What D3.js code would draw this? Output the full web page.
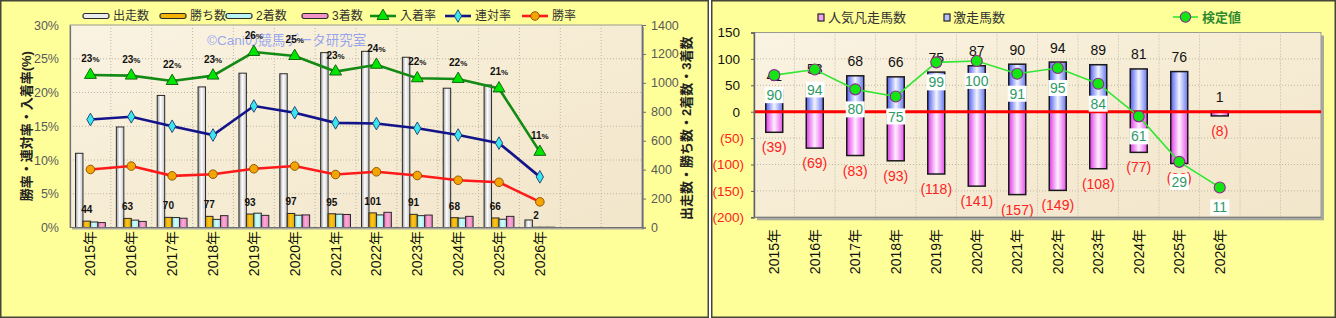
<!DOCTYPE html>
<html>
<head>
<meta charset="utf-8">
<script src="https://cdn.jsdelivr.net/npm/d3@7"></script>
<style>
  body { margin: 0; background: #ffffff; }
  svg { display: block; font-family: "Liberation Sans", Arial, "Noto Sans CJK JP", sans-serif; }
</style>
</head>
<body>
<svg id="chart" width="1336" height="318"></svg>
<script>
// データ（2015年〜2026年、後ろ2枠は空き）
var YEARS = ['2015年', '2016年', '2017年', '2018年', '2019年', '2020年', '2021年', '2022年', '2023年', '2024年', '2025年', '2026年']
var NCAT = 14
var STARTS = [513, 695, 913, 972, 1067, 1063, 1209, 1218, 1177, 963, 985, 52]
var WINS = [44, 63, 70, 77, 93, 97, 95, 101, 91, 68, 66, 2]
var SECONDS = [38, 51, 69, 56, 99, 85, 92, 87, 82, 65, 57, 2]
var THIRDS = [34, 42, 64, 82, 84, 87, 90, 105, 86, 77, 77, 2]
var PLACE_RATE = [22.6, 22.5, 21.7, 22.5, 26.0, 25.4, 23.1, 24.1, 22.1, 22.0, 20.6, 11.2]
var QUINELLA_RATE = [16.0, 16.4, 15.0, 13.7, 18.0, 17.0, 15.5, 15.4, 14.7, 13.7, 12.5, 7.5]
var WIN_RATE = [8.6, 9.1, 7.65, 7.9, 8.7, 9.1, 7.85, 8.25, 7.7, 7.0, 6.7, 3.8]
var RATE_TICKS = [0, 5, 10, 15, 20, 25, 30]
var COUNT_TICKS = [0, 200, 400, 600, 800, 1000, 1200, 1400]

var GEKISOU = [41, 53, 68, 66, 75, 87, 90, 94, 89, 81, 76, 1]
var BONSOU = [39, 69, 83, 93, 118, 141, 157, 149, 108, 77, 98, 8]
var KENTEI = [90, 94, 80, 75, 99, 100, 91, 95, 84, 61, 29, 11]
var R_TICKS = [-200, -150, -100, -50, 0, 50, 100, 150]

var svg = d3.select('#chart')
var defs = svg.append('defs')

function hgrad(id, stops) {
  var g = defs.append('linearGradient').attr('id', id)
    .attr('x1', '0%').attr('x2', '100%').attr('y1', '0%').attr('y2', '0%')
  stops.forEach(function (s) { g.append('stop').attr('offset', s[0]).attr('stop-color', s[1]) })
}
hgrad('gWhite', [['0%', '#9c9c9c'], ['45%', '#ffffff'], ['100%', '#c4c4c4']])
hgrad('gGold', [['0%', '#d49a00'], ['45%', '#ffc61e'], ['100%', '#e2a600']])
hgrad('gCyan', [['0%', '#90dcdc'], ['45%', '#d0ffff'], ['100%', '#a6e8e8']])
hgrad('gPink', [['0%', '#d86ea8'], ['45%', '#ffaadb'], ['100%', '#e486bc']])
hgrad('gBlue', [['0%', '#4e5ef0'], ['50%', '#f2f4ff'], ['100%', '#6676ee']])
hgrad('gMag', [['0%', '#e03ae6'], ['50%', '#fff0ff'], ['100%', '#e652ea']])
var pg = defs.append('linearGradient').attr('id', 'gPaper')
  .attr('x1', '0%').attr('y1', '0%').attr('x2', '100%').attr('y2', '100%')
pg.append('stop').attr('offset', '0%').attr('stop-color', '#faf3e2')
pg.append('stop').attr('offset', '50%').attr('stop-color', '#f6ecd4')
pg.append('stop').attr('offset', '100%').attr('stop-color', '#f2e6cb')

// パネル
function panel(x, w) {
  svg.append('rect').attr('x', x + 0.75).attr('y', 0.75).attr('width', w - 1.5).attr('height', 316.5)
    .attr('fill', '#ffff99').attr('stroke', '#45453a').attr('stroke-width', 1.5)
}
panel(0, 709)
panel(711, 625)

// ---------------- 左グラフ ----------------
var L = { left: 70, right: 642, top: 25, bottom: 227.5 }
var xL = d3.scaleBand().domain(d3.range(NCAT)).range([L.left, L.right])
var yRate = d3.scaleLinear().domain([0, 30]).range([L.bottom, L.top])
var yCount = d3.scaleLinear().domain([0, 1400]).range([L.bottom, L.top])
var gl = svg.append('g')

gl.append('rect').attr('x', L.left + 2).attr('y', L.top + 2).attr('width', L.right - L.left).attr('height', L.bottom - L.top)
  .attr('fill', '#a9a9a0')
gl.append('rect').attr('x', L.left).attr('y', L.top).attr('width', L.right - L.left).attr('height', L.bottom - L.top)
  .attr('fill', 'url(#gPaper)').attr('stroke', '#9a9a90')

// グリッド
gl.selectAll('.hg').data(RATE_TICKS.slice(1, -1)).enter().append('line')
  .attr('x1', L.left).attr('x2', L.right)
  .attr('y1', function (d) { return yRate(d) }).attr('y2', function (d) { return yRate(d) })
  .attr('stroke', '#bdb6a6').attr('stroke-dasharray', '1,2')
gl.selectAll('.vg').data(d3.range(1, NCAT)).enter().append('line')
  .attr('x1', function (d) { return L.left + d * xL.step() }).attr('x2', function (d) { return L.left + d * xL.step() })
  .attr('y1', L.top).attr('y2', L.bottom)
  .attr('stroke', '#bdb6a6').attr('stroke-dasharray', '1,2')

// 透かし
gl.append('text').attr('x', 207).attr('y', 45).attr('font-size', '13.5px')
  .attr('fill', '#6f86f5').attr('fill-opacity', 0.7)
  .text('©Caniの競馬データ研究室')

// 棒グラフ
var BAR_SERIES = [
  { name: '出走数', values: STARTS, fill: 'url(#gWhite)', key: '#ececec' },
  { name: '勝ち数', values: WINS, fill: 'url(#gGold)', key: '#f2b400' },
  { name: '2着数', values: SECONDS, fill: 'url(#gCyan)', key: '#b8f4f4' },
  { name: '3着数', values: THIRDS, fill: 'url(#gPink)', key: '#f294c6' }
]
var sub = d3.scaleBand().domain(d3.range(BAR_SERIES.length)).range([5.5, xL.bandwidth() - 5.5])
BAR_SERIES.forEach(function (s, k) {
  gl.selectAll('.b' + k).data(s.values).enter().append('rect')
    .attr('x', function (d, i) { return xL(i) + sub(k) })
    .attr('y', function (d) { return yCount(d) })
    .attr('width', sub.bandwidth())
    .attr('height', function (d) { return L.bottom - yCount(d) })
    .attr('fill', s.fill).attr('stroke', '#2a2a2a').attr('stroke-width', 1)
})
// 勝ち数ラベル
gl.selectAll('.wl').data(WINS).enter().append('text')
  .attr('x', function (d, i) { return xL(i) + sub(1) + sub.bandwidth() / 2 })
  .attr('y', function (d) { return yCount(d) - 8 })
  .attr('text-anchor', 'middle').attr('font-size', '10px').attr('font-weight', 'bold').attr('fill', '#111')
  .text(function (d) { return d })

// 折れ線
var LINE_SERIES = [
  { name: '入着率', values: PLACE_RATE, color: '#138a13', mark: 'tri', mfill: '#00e600', mstroke: '#0a5a0a' },
  { name: '連対率', values: QUINELLA_RATE, color: '#14148a', mark: 'dia', mfill: '#3ce6f0', mstroke: '#1a3a70' },
  { name: '勝率', values: WIN_RATE, color: '#ff1a1a', mark: 'cir', mfill: '#f5a500', mstroke: '#8a4a00' }
]
function cx(i) { return xL(i) + xL.bandwidth() / 2 }
function marker(sel, type) {
  if (type == 'cir') return sel.append('circle').attr('r', 4.3)
  var sym = type == 'tri' ? d3.symbol(d3.symbolTriangle, 62) : d3.symbol(d3.symbolDiamond, 46)
  return sel.append('path').attr('d', sym)
}
LINE_SERIES.forEach(function (s) {
  var line = d3.line().x(function (d, i) { return cx(i) }).y(function (d) { return yRate(d) })
  gl.append('path').attr('d', line(s.values)).attr('fill', 'none')
    .attr('stroke', s.color).attr('stroke-width', 2.6)
  var mg = gl.selectAll(null).data(s.values).enter().append('g')
    .attr('transform', function (d, i) { return 'translate(' + cx(i) + ',' + yRate(d) + ')' })
  marker(mg, s.mark).attr('fill', s.mfill).attr('stroke', s.mstroke).attr('stroke-width', 0.9)
})
// 入着率ラベル
var pl = gl.selectAll('.pl').data(PLACE_RATE).enter().append('text')
  .attr('x', function (d, i) { return cx(i) })
  .attr('y', function (d) { return yRate(d) - 13 })
  .attr('text-anchor', 'middle').attr('font-size', '10px').attr('font-weight', 'bold').attr('fill', '#111')
pl.append('tspan').text(function (d) { return Math.round(d) })
pl.append('tspan').attr('font-size', '8px').text('%')

// 軸
var axL = gl.append('g').attr('transform', 'translate(' + L.left + ',0)')
  .call(d3.axisLeft(yRate).tickValues(RATE_TICKS).tickSize(0).tickPadding(11).tickFormat(function (d) { return d + '%' }))
var axR = gl.append('g').attr('transform', 'translate(' + L.right + ',0)')
  .call(d3.axisRight(yCount).tickValues(COUNT_TICKS).tickSize(4).tickPadding(5).tickFormat(d3.format('d')))
;[axL, axR].forEach(function (a) {
  a.select('.domain').attr('stroke', '#707070').attr('stroke-width', 1.2)
  a.selectAll('.tick line').attr('stroke', '#707070')
  a.selectAll('text').attr('font-size', '12.5px').attr('fill', '#5a5a5a')
})
gl.append('line').attr('x1', L.left).attr('x2', L.right).attr('y1', L.bottom).attr('y2', L.bottom)
  .attr('stroke', '#707070').attr('stroke-width', 1.2)

gl.selectAll('.xl').data(YEARS).enter().append('text')
  .attr('transform', function (d, i) { return 'translate(' + cx(i) + ',231) rotate(-90)' })
  .attr('dy', '0.36em').attr('text-anchor', 'end').attr('font-size', '14px').attr('fill', '#111')
  .text(function (d) { return d })

gl.append('text').attr('transform', 'translate(26,' + ((L.top + L.bottom) / 2) + ') rotate(-90)')
  .attr('dy', '0.36em').attr('text-anchor', 'middle').attr('font-size', '13px').attr('font-weight', 'bold').attr('fill', '#222')
  .text('勝率・連対率・入着率(%)')
gl.append('text').attr('transform', 'translate(686,' + ((L.top + L.bottom) / 2 + 2) + ') rotate(-90)')
  .attr('dy', '0.36em').attr('text-anchor', 'middle').attr('font-size', '13px').attr('font-weight', 'bold').attr('fill', '#222')
  .text('出走数・勝ち数・2着数・3着数')

// 凡例
var LEG_X = [83, 160, 226, 302, 370, 445, 522]
var legItems = BAR_SERIES.map(function (s) { return { name: s.name, bar: s } })
  .concat(LINE_SERIES.map(function (s) { return { name: s.name, line: s } }))
var lg = gl.selectAll('.lg').data(legItems).enter().append('g')
  .attr('transform', function (d, i) { return 'translate(' + LEG_X[i] + ',16)' })
lg.each(function (d) {
  var g = d3.select(this)
  if (d.bar) {
    g.append('rect').attr('x', 0).attr('y', -2.5).attr('width', 26).attr('height', 5).attr('rx', 2)
      .attr('fill', d.bar.key).attr('stroke', '#2a2a2a').attr('stroke-width', 1.2)
  } else {
    g.append('line').attr('x1', 0).attr('x2', 26).attr('stroke', d.line.color).attr('stroke-width', 2.6)
    var m = g.append('g').attr('transform', 'translate(13,0)')
    marker(m, d.line.mark).attr('fill', d.line.mfill).attr('stroke', d.line.mstroke).attr('stroke-width', 0.9)
  }
  g.append('text').attr('x', 30).attr('dy', '0.36em').attr('font-size', '12px').attr('fill', '#333').text(d.name)
})

// ---------------- 右グラフ ----------------
var R = { left: 754, right: 1321, top: 32.5, bottom: 217.3 }
var xR = d3.scaleBand().domain(d3.range(NCAT)).range([R.left, R.right])
var yR = d3.scaleLinear().domain([-200, 150]).range([R.bottom, R.top])
var yK = d3.scaleLinear().domain([-10, 120]).range([R.bottom, R.top])
var gr = svg.append('g')
function rx(i) { return xR(i) + xR.bandwidth() / 2 }

gr.append('rect').attr('x', R.left + 3).attr('y', R.top + 3).attr('width', R.right - R.left).attr('height', R.bottom - R.top)
  .attr('fill', '#a9a9a0')
gr.append('rect').attr('x', R.left).attr('y', R.top).attr('width', R.right - R.left).attr('height', R.bottom - R.top)
  .attr('fill', 'url(#gPaper)').attr('stroke', '#9a9a90')
gr.selectAll('.hg').data(R_TICKS.slice(1, -1)).enter().append('line')
  .attr('x1', R.left).attr('x2', R.right)
  .attr('y1', function (d) { return yR(d) }).attr('y2', function (d) { return yR(d) })
  .attr('stroke', '#bdb6a6').attr('stroke-dasharray', '1,2')
gr.selectAll('.vg').data(d3.range(1, NCAT)).enter().append('line')
  .attr('x1', function (d) { return R.left + d * xR.step() }).attr('x2', function (d) { return R.left + d * xR.step() })
  .attr('y1', R.top).attr('y2', R.bottom)
  .attr('stroke', '#bdb6a6').attr('stroke-dasharray', '1,2')

var BW = 17
gr.selectAll('.pb').data(BONSOU).enter().append('rect')
  .attr('x', function (d, i) { return rx(i) - BW / 2 }).attr('y', yR(0))
  .attr('width', BW).attr('height', function (d) { return yR(-d) - yR(0) })
  .attr('fill', 'url(#gMag)').attr('stroke', '#1a1a1a').attr('stroke-width', 1.5)
gr.selectAll('.bb').data(GEKISOU).enter().append('rect')
  .attr('x', function (d, i) { return rx(i) - BW / 2 }).attr('y', function (d) { return yR(d) })
  .attr('width', BW).attr('height', function (d) { return yR(0) - yR(d) })
  .attr('fill', 'url(#gBlue)').attr('stroke', '#1a1a1a').attr('stroke-width', 1.5)

gr.selectAll('.bl').data(GEKISOU).enter().append('text')
  .attr('x', function (d, i) { return rx(i) }).attr('y', function (d) { return yR(d) - 9.5 })
  .attr('text-anchor', 'middle').attr('font-size', '14px').attr('fill', '#111')
  .text(function (d) { return d })
gr.selectAll('.pl').data(BONSOU).enter().append('text')
  .attr('x', function (d, i) { return rx(i) }).attr('y', function (d) { return yR(-d) + 20 })
  .attr('text-anchor', 'middle').attr('font-size', '14px').attr('fill', '#ff2222')
  .text(function (d) { return '(' + d + ')' })

// 0ライン
gr.append('line').attr('x1', R.left).attr('x2', R.right).attr('y1', yR(0)).attr('y2', yR(0))
  .attr('stroke', '#ff0000').attr('stroke-width', 3)

// 検定値
var kline = d3.line().x(function (d, i) { return rx(i) }).y(function (d) { return yK(d) })
gr.append('path').attr('d', kline(KENTEI)).attr('fill', 'none').attr('stroke', '#33e633').attr('stroke-width', 1.6)
gr.selectAll('.kp').data(KENTEI).enter().append('circle')
  .attr('cx', function (d, i) { return rx(i) }).attr('cy', function (d) { return yK(d) }).attr('r', 5.5)
  .attr('fill', '#14e614').attr('stroke', '#8a2a8a').attr('stroke-width', 1.1)
var kl = gr.selectAll('.kl').data(KENTEI).enter().append('g')
  .attr('transform', function (d, i) { return 'translate(' + rx(i) + ',' + (yK(d) + 20) + ')' })
kl.append('rect').attr('x', function (d) { return d >= 100 ? -12 : -9.5 }).attr('y', -8)
  .attr('width', function (d) { return d >= 100 ? 24 : 19 }).attr('height', 16).attr('fill', '#ffffff')
kl.append('text').attr('text-anchor', 'middle').attr('dy', '0.36em').attr('font-size', '14px').attr('fill', '#2f9a66')
  .text(function (d) { return d })

// 軸
var ayR = gr.append('g').attr('transform', 'translate(' + R.left + ',0)')
  .call(d3.axisLeft(yR).tickValues(R_TICKS).tickSize(3).tickPadding(0).tickFormat(function (d) { return d < 0 ? '(' + (-d) + ')' : d }))
ayR.select('.domain').attr('stroke', '#606060').attr('stroke-width', 1.4)
ayR.selectAll('.tick line').attr('stroke', '#606060')
ayR.selectAll('.tick text').attr('font-size', '13.5px')
  .attr('x', function (d) { return d < 0 ? -10 : -14 })
  .attr('fill', function (d) { return d < 0 ? '#ff2222' : '#111' })
gr.append('line').attr('x1', R.left).attr('x2', R.right).attr('y1', R.bottom).attr('y2', R.bottom)
  .attr('stroke', '#808080').attr('stroke-width', 1.2)

gr.selectAll('.xl').data(YEARS).enter().append('text')
  .attr('transform', function (d, i) { return 'translate(' + rx(i) + ',229) rotate(-90)' })
  .attr('dy', '0.36em').attr('text-anchor', 'end').attr('font-size', '14px').attr('fill', '#111')
  .text(function (d) { return d })

// 凡例
var rlg = gr.append('g')
rlg.append('rect').attr('x', 818).attr('y', 14).attr('width', 6).attr('height', 7)
  .attr('fill', '#f6a0f0').attr('stroke', '#222').attr('stroke-width', 1.2)
rlg.append('text').attr('x', 828).attr('y', 17.5).attr('dy', '0.36em').attr('font-size', '13px').attr('fill', '#333').text('人気凡走馬数')
rlg.append('rect').attr('x', 944).attr('y', 14).attr('width', 6).attr('height', 7)
  .attr('fill', '#b8c0ff').attr('stroke', '#222').attr('stroke-width', 1.2)
rlg.append('text').attr('x', 953).attr('y', 17.5).attr('dy', '0.36em').attr('font-size', '13px').attr('fill', '#333').text('激走馬数')
rlg.append('line').attr('x1', 1173).attr('x2', 1198).attr('y1', 17).attr('y2', 17).attr('stroke', '#33e633').attr('stroke-width', 1.6)
rlg.append('circle').attr('cx', 1185.5).attr('cy', 17).attr('r', 5.2).attr('fill', '#14e614').attr('stroke', '#8a2a8a').attr('stroke-width', 1.1)
rlg.append('text').attr('x', 1202).attr('y', 17.5).attr('dy', '0.36em').attr('font-size', '13px').attr('font-weight', 'bold')
  .attr('fill', '#2f8a2f').text('検定値')
</script>
</body>
</html>
